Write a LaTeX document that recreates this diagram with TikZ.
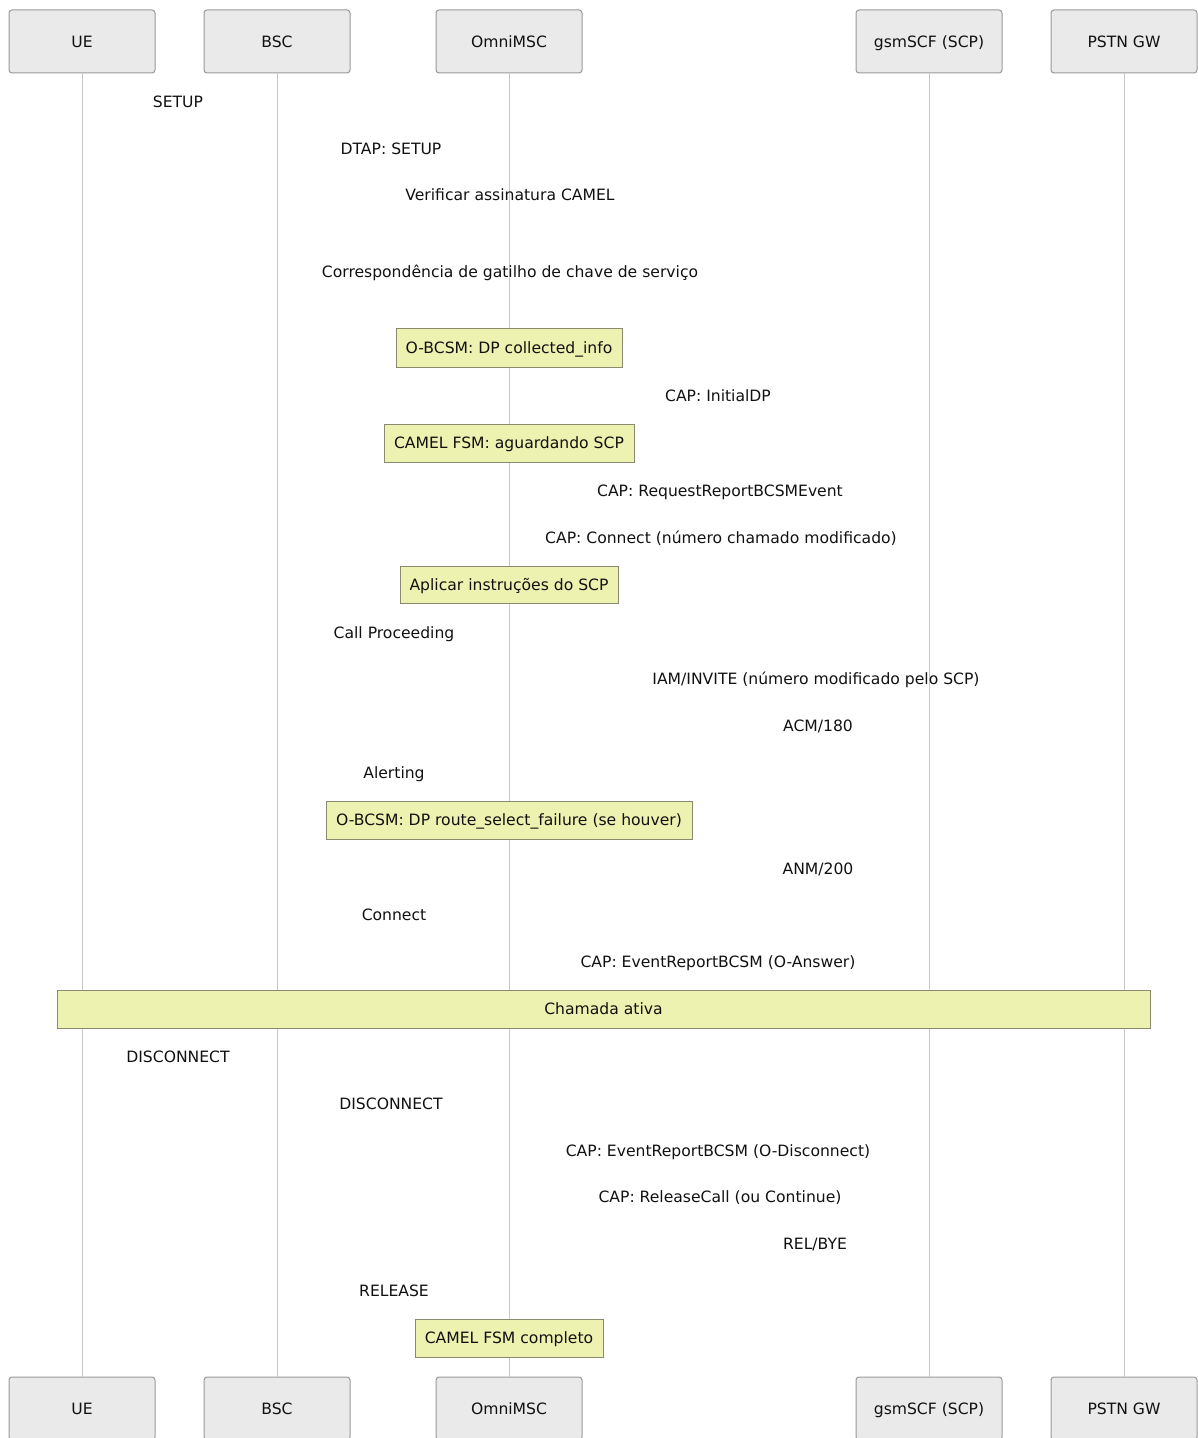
\documentclass[tikz,border=0pt]{standalone}
\usepackage{fontspec}
\setmainfont{DejaVu Sans}
\definecolor{actorfill}{HTML}{EAEAEA}
\definecolor{actorline}{HTML}{999999}
\definecolor{lifeline}{HTML}{C8C8C8}
\definecolor{notefill}{HTML}{EEF2B0}
\definecolor{noteline}{HTML}{8A8A70}
\definecolor{txt}{HTML}{111111}
\tikzset{
  fnt/.style={font=\fontsize{11.7}{14}\selectfont, text=txt, text height=8.5pt, text depth=0pt},
  actor/.style={fnt, draw=actorline, fill=actorfill, rounded corners=2.25pt, line width=0.75pt,
    minimum width=146*0.75pt, minimum height=63*0.75pt, inner sep=0pt},
  msg/.style={fnt, inner sep=0pt},
  note/.style={fnt, draw=noteline, fill=notefill, line width=0.75pt, inner sep=0pt},
  life/.style={draw=lifeline, line width=0.75pt}
}
\begin{document}
\begin{tikzpicture}[x=0.75pt,y=-0.75pt]
\useasboundingbox (0,0) rectangle (1197,1438);
% actors top
\node[actor] (ueT) at (82,41.5) {UE};
\node[actor] (bscT) at (277,41.5) {BSC};
\node[actor] (mscT) at (509,41.5) {OmniMSC};
\node[actor] (scfT) at (929,41.5) {gsmSCF (SCP)};
\node[actor] (gwT) at (1124,41.5) {PSTN GW};
% actors bottom
\node[actor] (ueB) at (82,1408.5) {UE};
\node[actor] (bscB) at (277,1408.5) {BSC};
\node[actor] (mscB) at (509,1408.5) {OmniMSC};
\node[actor] (scfB) at (929,1408.5) {gsmSCF (SCP)};
\node[actor] (gwB) at (1124,1408.5) {PSTN GW};
% lifelines
\draw[life] (ueT.south) -- (ueB.north);
\draw[life] (bscT.south) -- (bscB.north);
\draw[life] (mscT.south) -- (mscB.north);
\draw[life] (scfT.south) -- (scfB.north);
\draw[life] (gwT.south) -- (gwB.north);
% messages
\node[msg] (m1) at (178,102) {SETUP};
\node[msg] (m2) at (391,149) {DTAP: SETUP};
\node[msg] (m3) at (510,195) {Verificar assinatura CAMEL};
\node[msg] (m4) at (510,272) {Correspondência de gatilho de chave de serviço};
\node[note, minimum width=226*0.75pt, minimum height=39*0.75pt] (n1) at (509,347.5) {O-BCSM: DP collected\_info};
\node[msg] (m5) at (718,396) {CAP: InitialDP};
\node[note, minimum width=250*0.75pt, minimum height=38*0.75pt] (n2) at (509,443) {CAMEL FSM: aguardando SCP};
\node[msg] (m6) at (720,491) {CAP: RequestReportBCSMEvent};
\node[msg] (m7) at (721,538) {CAP: Connect (número chamado modificado)};
\node[note, minimum width=218*0.75pt, minimum height=37*0.75pt] (n3) at (509,584.5) {Aplicar instruções do SCP};
\node[msg] (m8) at (394,633) {Call Proceeding};
\node[msg] (m9) at (816,679) {IAM/INVITE (número modificado pelo SCP)};
\node[msg] (m10) at (818,726) {ACM/180};
\node[msg] (m11) at (394,773) {Alerting};
\node[note, minimum width=366*0.75pt, minimum height=38*0.75pt] (n4) at (509,820) {O-BCSM: DP route\_select\_failure (se houver)};
\node[msg] (m12) at (818,869) {ANM/200};
\node[msg] (m13) at (394,915) {Connect};
\node[msg] (m14) at (718,962) {CAP: EventReportBCSM (O-Answer)};
\node[note, minimum width=1093*0.75pt, minimum height=38*0.75pt] (n5) at (603.5,1009) {Chamada ativa};
\node[msg] (m15) at (178,1057) {DISCONNECT};
\node[msg] (m16) at (391,1104) {DISCONNECT};
\node[msg] (m17) at (718,1151) {CAP: EventReportBCSM (O-Disconnect)};
\node[msg] (m18) at (720,1197) {CAP: ReleaseCall (ou Continue)};
\node[msg] (m19) at (815,1244) {REL/BYE};
\node[msg] (m20) at (394,1291) {RELEASE};
\node[note, minimum width=188*0.75pt, minimum height=38*0.75pt] (n6) at (509,1338) {CAMEL FSM completo};
\end{tikzpicture}
\end{document}
